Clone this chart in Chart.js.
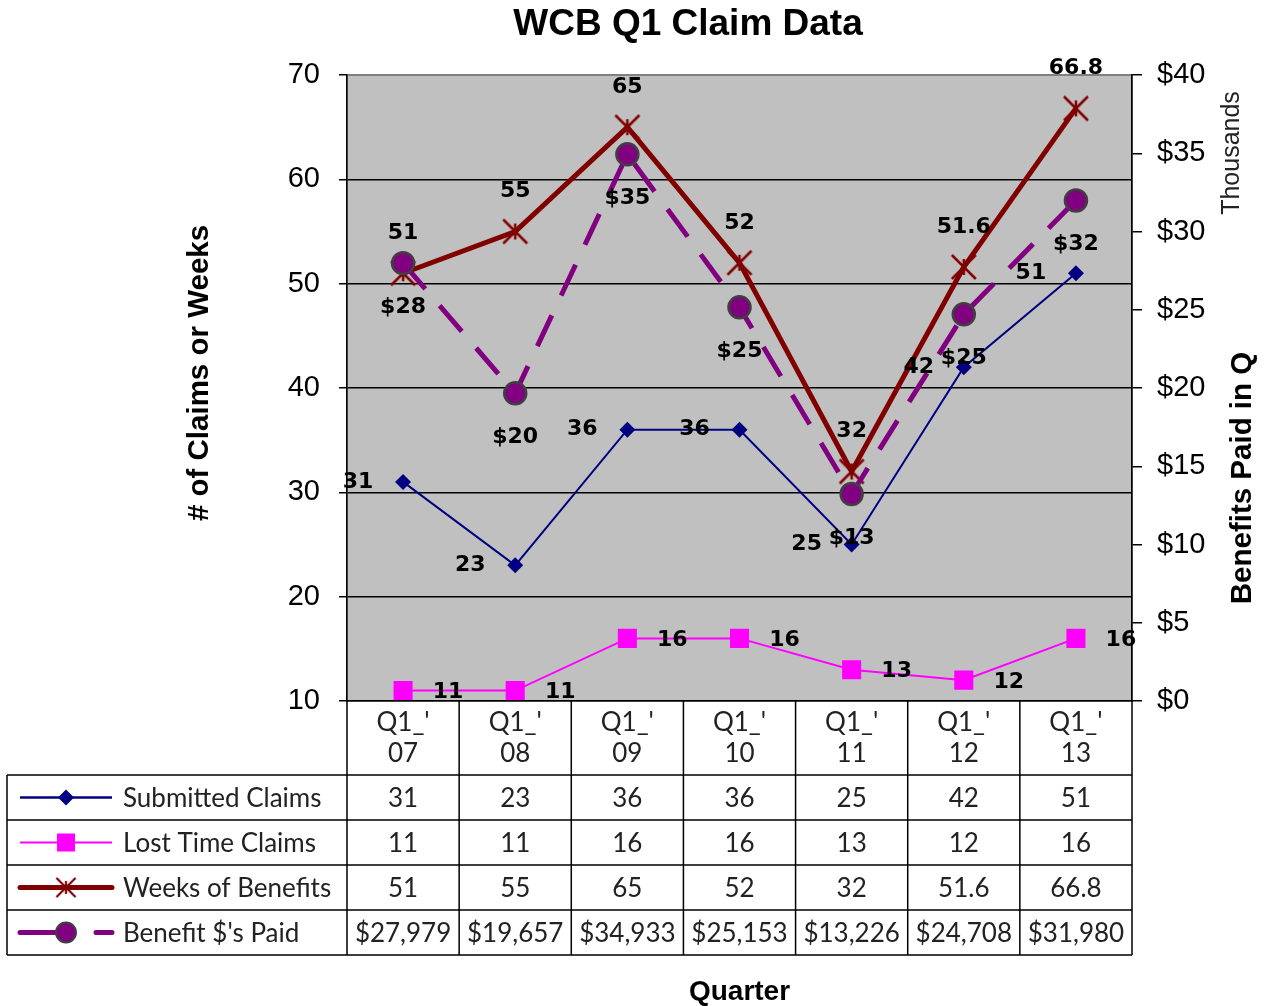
<!DOCTYPE html>
<html>
<head>
<meta charset="utf-8">
<script src="https://cdn.jsdelivr.net/npm/chart.js@4.4.1/dist/chart.umd.min.js"></script>
<style>
  html, body { margin: 0; padding: 0; background: #fff; }
</style>
</head>
<body>
<canvas id="myChart" width="1270" height="1006"></canvas>
<script>
const quarters = [["Q1_'", "07"], ["Q1_'", "08"], ["Q1_'", "09"], ["Q1_'", "10"], ["Q1_'", "11"], ["Q1_'", "12"], ["Q1_'", "13"]];
const submittedClaims = [31, 23, 36, 36, 25, 42, 51];
const lostTimeClaims = [11, 11, 16, 16, 13, 12, 16];
const weeksOfBenefits = [51, 55, 65, 52, 32, 51.6, 66.8];
const benefitsPaid = [27979, 19657, 34933, 25153, 13226, 24708, 31980];
const seriesNames = ["Submitted Claims", "Lost Time Claims", "Weeks of Benefits", "Benefit $'s Paid"];

const NAVY = "#000080", MAGENTA = "#FF00FF", DARKRED = "#800000", PURPLE = "#800080";
const ARIAL = "'Liberation Sans', Arial, sans-serif";
const CALIBRI = "Lato, 'Open Sans', sans-serif";
const LABELFONT = "'DejaVu Sans', Verdana, sans-serif";

// asterisk marker like Excel's "*" point
function starMarker() {
  const c = document.createElement("canvas");
  c.width = 30; c.height = 30;
  const g = c.getContext("2d");
  g.strokeStyle = DARKRED;
  g.lineWidth = 2.5;
  g.beginPath();
  g.moveTo(3, 3); g.lineTo(27, 27);
  g.moveTo(27, 3); g.lineTo(3, 27);
  g.moveTo(15, 7); g.lineTo(15, 23);
  g.stroke();
  return c;
}
const star = starMarker();

function drawMarker(ctx, idx, x, y) {
  ctx.save();
  if (idx === 0) {
    ctx.fillStyle = NAVY;
    ctx.beginPath();
    ctx.moveTo(x, y - 8); ctx.lineTo(x + 8, y); ctx.lineTo(x, y + 8); ctx.lineTo(x - 8, y);
    ctx.closePath(); ctx.fill();
  } else if (idx === 1) {
    ctx.fillStyle = MAGENTA;
    ctx.fillRect(x - 9, y - 9, 18, 18);
  } else if (idx === 2) {
    ctx.drawImage(star, x - 12, y - 12, 24, 24);
  } else {
    ctx.fillStyle = PURPLE;
    ctx.strokeStyle = "#404040";
    ctx.lineWidth = 2;
    ctx.beginPath(); ctx.arc(x, y, 10, 0, Math.PI * 2); ctx.fill(); ctx.stroke();
  }
  ctx.restore();
}

const plotBackground = {
  id: "plotBackground",
  beforeDraw(chart) {
    const { ctx, chartArea: a } = chart;
    ctx.save();
    ctx.fillStyle = "#C0C0C0";
    ctx.fillRect(a.left, a.top, a.right - a.left, a.bottom - a.top);
    ctx.strokeStyle = "#808080";
    ctx.lineWidth = 2;
    ctx.strokeRect(a.left, a.top, a.right - a.left, a.bottom - a.top);
    ctx.restore();
  }
};

// value labels next to the points
const labelSpecs = [
  { dx: -45, dy: 0, fmt: v => String(v) },
  { dx: 45, dy: 2, fmt: v => String(v) },
  { dx: 0, dy: -40, fmt: v => String(v) },
  { dx: 0, dy: 44, fmt: v => "$" + Math.round(v) }
];
const pointLabels = {
  id: "pointLabels",
  afterDatasetsDraw(chart) {
    const ctx = chart.ctx;
    ctx.save();
    ctx.font = "bold 22px " + LABELFONT;
    ctx.fillStyle = "#000";
    ctx.textAlign = "center";
    ctx.textBaseline = "middle";
    chart.data.datasets.forEach((ds, d) => {
      const meta = chart.getDatasetMeta(d);
      const spec = labelSpecs[d];
      meta.data.forEach((pt, i) => {
        ctx.fillText(spec.fmt(ds.data[i]), pt.x + spec.dx, pt.y + spec.dy);
      });
    });
    ctx.restore();
  }
};

// titles and the data table under the plot
const tableAndTitles = {
  id: "tableAndTitles",
  afterDraw(chart) {
    const { ctx, chartArea: a } = chart;
    const xs = chart.scales.x;
    const n = quarters.length;
    const colW = (a.right - a.left) / n;
    const tableLeft = 7;
    const rowTop = a.bottom + 74;
    const rowH = 45;
    const tableBottom = rowTop + rowH * 4;

    ctx.save();
    ctx.fillStyle = "#000";
    ctx.textAlign = "center";
    ctx.textBaseline = "middle";
    ctx.font = "bold 37px " + ARIAL;
    ctx.fillText("WCB Q1 Claim Data", 688, 25);

    ctx.font = "bold 29.5px " + ARIAL;
    ctx.save(); ctx.translate(200, 373); ctx.rotate(-Math.PI / 2);
    ctx.fillText("# of Claims or Weeks", 0, 0); ctx.restore();

    ctx.font = "25px " + ARIAL;
    ctx.fillStyle = "#222";
    ctx.save(); ctx.translate(1232, 153); ctx.rotate(-Math.PI / 2);
    ctx.fillText("Thousands", 0, 0); ctx.restore();

    ctx.font = "bold 29.5px " + ARIAL;
    ctx.fillStyle = "#000";
    ctx.save(); ctx.translate(1243, 478); ctx.rotate(-Math.PI / 2);
    ctx.fillText("Benefits Paid in Q", 0, 0); ctx.restore();

    // grid of the table
    ctx.strokeStyle = "#000";
    ctx.lineWidth = 1.5;
    ctx.beginPath();
    for (let r = 0; r <= 4; r++) {
      const y = rowTop + r * rowH;
      ctx.moveTo(tableLeft, y); ctx.lineTo(a.right, y);
    }
    for (let i = 0; i <= n; i++) {
      const x = a.left + i * colW;
      ctx.moveTo(x, a.bottom); ctx.lineTo(x, tableBottom);
    }
    ctx.moveTo(tableLeft, rowTop); ctx.lineTo(tableLeft, tableBottom);
    ctx.stroke();

    const rows = [
      submittedClaims.map(String),
      lostTimeClaims.map(String),
      weeksOfBenefits.map(String),
      benefitsPaid.map(v => "$" + v.toLocaleString("en-US"))
    ];
    ctx.font = "26px " + CALIBRI;
    ctx.fillStyle = "#222";
    rows.forEach((row, r) => {
      const y = rowTop + r * rowH + rowH / 2 + 1;
      row.forEach((txt, i) => ctx.fillText(txt, xs.getPixelForValue(i), y));
    });

    // legend keys in the first column
    const colors = [NAVY, MAGENTA, DARKRED, PURPLE];
    const widths = [2.5, 2, 5, 5];
    seriesNames.forEach((name, r) => {
      const y = rowTop + r * rowH + rowH / 2;
      ctx.save();
      ctx.strokeStyle = colors[r];
      ctx.lineWidth = widths[r];
      ctx.lineCap = r >= 2 ? "round" : "butt";
      if (r === 3) ctx.setLineDash([46, 30]);
      ctx.beginPath(); ctx.moveTo(20, y); ctx.lineTo(112, y); ctx.stroke();
      ctx.restore();
      drawMarker(ctx, r, 66, y);
      ctx.textAlign = "left";
      ctx.fillStyle = "#222";
      ctx.fillText(name, 123, y + 1);
    });
    ctx.restore();
  }
};

const ctx = document.getElementById("myChart").getContext("2d");
new Chart(ctx, {
  type: "line",
  data: {
    labels: quarters,
    datasets: [
      {
        label: seriesNames[0],
        data: submittedClaims,
        yAxisID: "y",
        borderColor: NAVY,
        backgroundColor: NAVY,
        borderWidth: 2,
        pointStyle: "rectRot",
        pointRadius: 8,
        pointBorderWidth: 0,
        order: 2
      },
      {
        label: seriesNames[1],
        data: lostTimeClaims,
        yAxisID: "y",
        borderColor: MAGENTA,
        backgroundColor: MAGENTA,
        borderWidth: 2,
        pointStyle: "rect",
        pointRadius: 13.5,
        pointBorderWidth: 0,
        order: 3
      },
      {
        label: seriesNames[2],
        data: weeksOfBenefits,
        yAxisID: "y",
        borderColor: DARKRED,
        backgroundColor: DARKRED,
        borderWidth: 5,
        pointStyle: star,
        order: 1
      },
      {
        label: seriesNames[3],
        data: benefitsPaid.map(v => v / 1000),
        yAxisID: "y2",
        borderColor: PURPLE,
        backgroundColor: PURPLE,
        borderWidth: 5,
        borderDash: [34, 22],
        pointRadius: 11,
        pointBackgroundColor: PURPLE,
        pointBorderColor: "#404040",
        pointBorderWidth: 2.5,
        order: 0
      }
    ]
  },
  options: {
    responsive: false,
    animation: false,
    layout: { padding: { top: 75 } },
    plugins: {
      legend: { display: false },
      title: { display: false },
      tooltip: { enabled: false }
    },
    scales: {
      x: {
        offset: true,
        grid: { display: false, drawTicks: false, offset: true },
        border: { display: true, color: "#000", width: 1.5 },
        ticks: {
          autoSkip: false,
          maxRotation: 0,
          padding: 6,
          color: "#222",
          font: { family: CALIBRI, size: 26, lineHeight: 1.2 }
        },
        title: {
          display: true,
          text: "Quarter",
          color: "#000",
          font: { family: ARIAL, size: 28, weight: "bold", lineHeight: 1.0 },
          padding: { top: 0, bottom: 0 }
        },
        afterFit(scale) { scale.height = 305; }
      },
      y: {
        position: "left",
        min: 10,
        max: 70,
        ticks: {
          stepSize: 10,
          padding: 19,
          color: "#000",
          font: { family: ARIAL, size: 29 }
        },
        grid: {
          color: c => (c.tick && (c.tick.value === 70 || c.tick.value === 10)) ? "rgba(0,0,0,0)" : "#000",
          tickColor: "#000",
          tickLength: 8,
          lineWidth: 1.5
        },
        border: { color: "#000", width: 1.5 },
        afterFit(scale) { scale.width = 347; }
      },
      y2: {
        position: "right",
        min: 0,
        max: 40,
        ticks: {
          stepSize: 5,
          padding: 15,
          color: "#000",
          font: { family: ARIAL, size: 29 },
          callback: v => "$" + v
        },
        grid: {
          drawOnChartArea: false,
          tickColor: "#000",
          tickLength: 10,
          lineWidth: 1.5
        },
        border: { color: "#000", width: 1.5 },
        afterFit(scale) { scale.width = 138; }
      }
    }
  },
  plugins: [plotBackground, pointLabels, tableAndTitles]
});
</script>
</body>
</html>
